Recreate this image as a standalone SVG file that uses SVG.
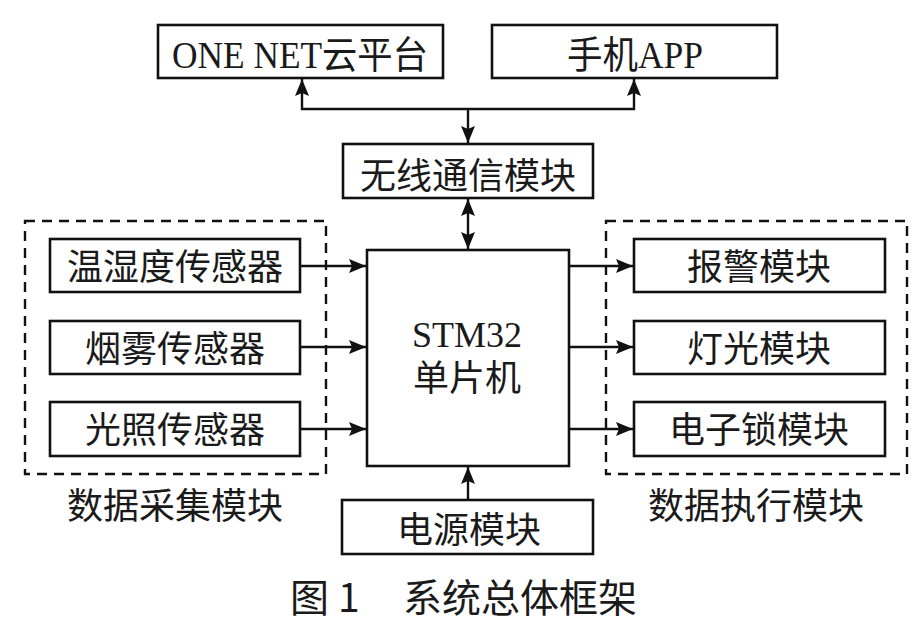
<svg xmlns="http://www.w3.org/2000/svg" width="921" height="632" viewBox="0 0 921 632">
<style>
.box{fill:#fff;stroke:#111;stroke-width:2.6}
.dash{fill:none;stroke:#111;stroke-width:2.4;stroke-dasharray:10 7}
.t{font-family:"Liberation Serif","Noto Sans CJK SC",serif;font-size:36px;fill:#1a1a1a;text-anchor:middle}
.cap{font-family:"Noto Sans CJK SC","Noto Sans",sans-serif;font-size:39px;fill:#1a1a1a}
.ln{fill:none;stroke:#111;stroke-width:2.4}
</style>
<defs>
<marker id="ah" markerUnits="userSpaceOnUse" markerWidth="18" markerHeight="15" refX="17" refY="7" orient="auto-start-reverse" viewBox="0 0 18 15">
<path d="M0,0 L17,7 L0,14 L3,7 Z" fill="#111"/>
</marker>
</defs>
<rect width="921" height="632" fill="#fff"/>

<g id="group-collect">
<rect class="dash" x="25" y="221" width="301" height="253"/>
<text class="t" x="175" y="519">数据采集模块</text>
</g>
<g id="group-exec">
<rect class="dash" x="606" y="221" width="301" height="253"/>
<text class="t" x="756" y="519">数据执行模块</text>
</g>

<g id="onenet">
<rect class="box" x="158" y="25" width="285" height="53"/>
<text class="t" x="300" y="68" textLength="256" lengthAdjust="spacingAndGlyphs" style="font-size:38px">ONE NET云平台</text>
</g>
<g id="app">
<rect class="box" x="492" y="25" width="285" height="53"/>
<text class="t" x="635" y="68" textLength="136" lengthAdjust="spacingAndGlyphs" style="font-size:38px">手机APP</text>
</g>
<g id="wireless">
<rect class="box" x="343" y="144" width="250" height="54"/>
<text class="t" x="468" y="189">无线通信模块</text>
</g>
<g id="mcu">
<rect class="box" x="367" y="250" width="202" height="216"/>
<text class="t" x="467" y="347">STM32</text>
<text class="t" x="467" y="391">单片机</text>
</g>
<g id="sensor-th">
<rect class="box" x="50" y="239" width="250" height="53"/>
<text class="t" x="175" y="280">温湿度传感器</text>
</g>
<g id="sensor-smoke">
<rect class="box" x="50" y="321" width="250" height="53"/>
<text class="t" x="175" y="362">烟雾传感器</text>
</g>
<g id="sensor-light">
<rect class="box" x="50" y="402" width="250" height="54"/>
<text class="t" x="175" y="443">光照传感器</text>
</g>
<g id="alarm">
<rect class="box" x="634" y="239" width="251" height="53"/>
<text class="t" x="759" y="280">报警模块</text>
</g>
<g id="lamp">
<rect class="box" x="634" y="321" width="251" height="53"/>
<text class="t" x="759" y="362">灯光模块</text>
</g>
<g id="lock">
<rect class="box" x="634" y="402" width="251" height="54"/>
<text class="t" x="759" y="443">电子锁模块</text>
</g>
<g id="power">
<rect class="box" x="342" y="500" width="251" height="54"/>
<text class="t" x="469" y="543">电源模块</text>
</g>

<g id="connectors">
<polyline class="ln" points="302,79 302,109 634,109 634,79" marker-start="url(#ah)" marker-end="url(#ah)"/>
<line class="ln" x1="468" y1="109" x2="468" y2="143" marker-end="url(#ah)"/>
<line class="ln" x1="468" y1="199" x2="468" y2="249" marker-start="url(#ah)" marker-end="url(#ah)"/>
<line class="ln" x1="300" y1="266" x2="366" y2="266" marker-end="url(#ah)"/>
<line class="ln" x1="300" y1="347" x2="366" y2="347" marker-end="url(#ah)"/>
<line class="ln" x1="300" y1="429" x2="366" y2="429" marker-end="url(#ah)"/>
<line class="ln" x1="569" y1="266" x2="633" y2="266" marker-end="url(#ah)"/>
<line class="ln" x1="569" y1="347" x2="633" y2="347" marker-end="url(#ah)"/>
<line class="ln" x1="569" y1="429" x2="633" y2="429" marker-end="url(#ah)"/>
<line class="ln" x1="468" y1="500" x2="468" y2="467" marker-end="url(#ah)"/>
</g>

<g id="caption">
<text class="cap" y="612"><tspan x="290">图</tspan><tspan x="338">1</tspan><tspan x="403">系统总体框架</tspan></text>
</g>
</svg>
